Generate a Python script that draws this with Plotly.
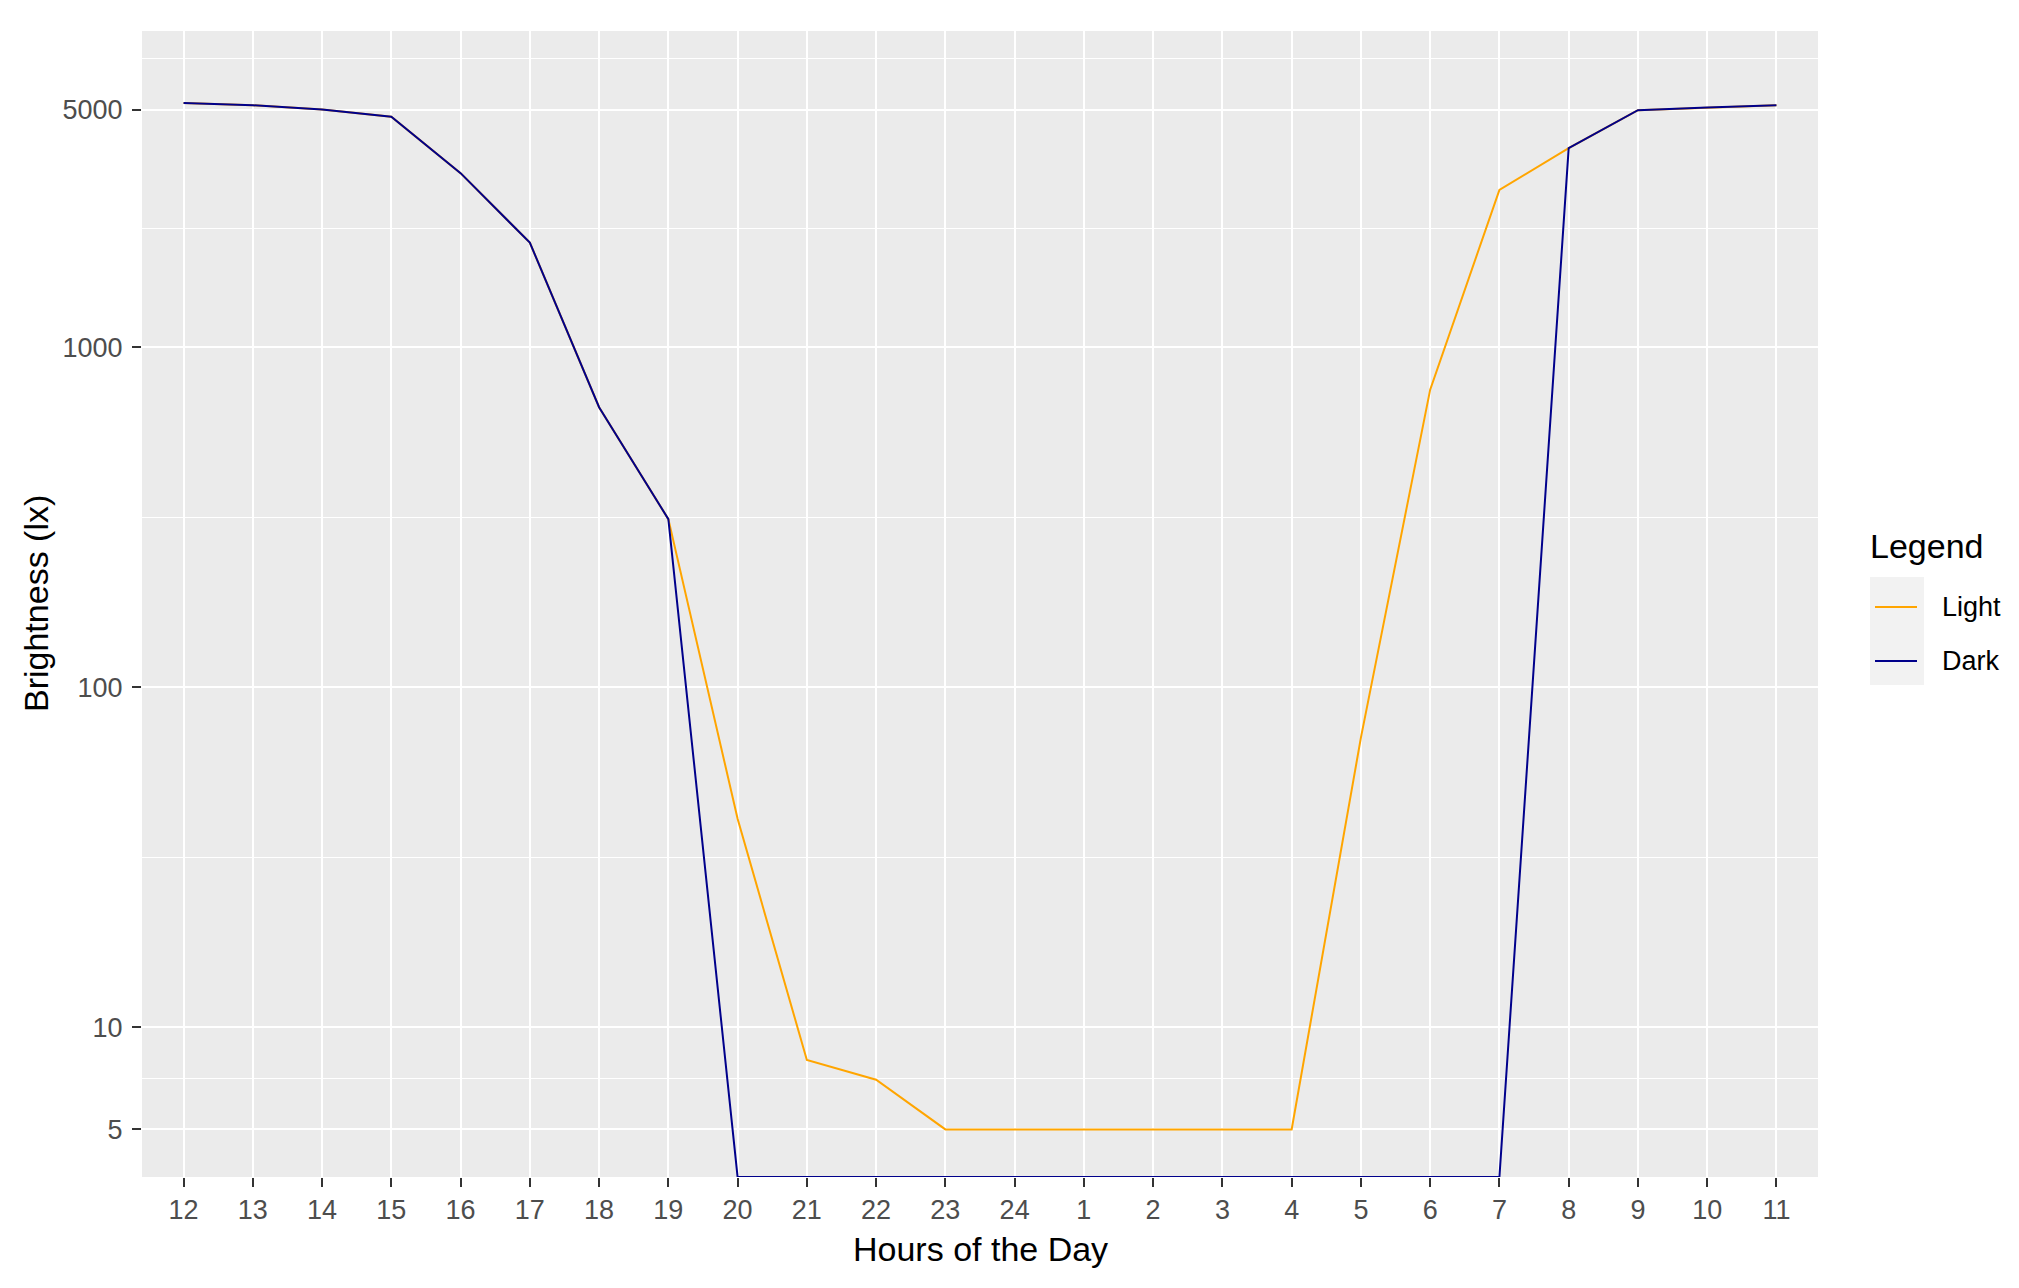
import math

import plotly.graph_objects as go

# hours on the x axis (noon to 11 the next morning)
hours = ["12", "13", "14", "15", "16", "17", "18", "19", "20", "21", "22", "23",
         "24", "1", "2", "3", "4", "5", "6", "7", "8", "9", "10", "11"]

# brightness in lx
light = [5230, 5150, 5000, 4760, 3250, 2030, 666, 312, 41, 8.0, 7.0, 5,
         5, 5, 5, 5, 5, 71, 750, 2900, 3850, 4980, 5070, 5150]
# 0 = no light: drawn on the bottom edge like ggplot does with -Inf on a log scale
dark = [5230, 5150, 5000, 4760, 3250, 2030, 666, 312, 0, 0, 0, 0,
        0, 0, 0, 0, 0, 0, 0, 0, 3850, 4980, 5070, 5150]

y_breaks = [5, 10, 100, 1000, 5000]
y_labels = ["5", "10", "100", "1000", "5000"]

W, H = 2019, 1288
ML, MR, MT, MB = 142, 201, 31, 111
y_lo, y_hi = 0.559, 3.930


def px(x):
    return (x - ML) / (W - ML - MR)


def py(y):
    return (H - MB - y) / (H - MT - MB)


# minor grid in the middle of major breaks (log space), ggplot style
logs = [math.log10(b) for b in y_breaks]
step = logs[1] - logs[0]
ext = [logs[0] - step] + logs + [logs[-1] + step]
minor_vals = [10 ** ((a + b) / 2) for a, b in zip(ext[:-1], ext[1:])]

floor_val = 10 ** y_lo
dark_plot = [v if v > 0 else floor_val for v in dark]

fig = go.Figure()
fig.add_trace(go.Scatter(x=hours, y=light, mode="lines", name="Light",
                         line=dict(color="#FFA500", width=2), cliponaxis=False))
fig.add_trace(go.Scatter(x=hours, y=dark_plot, mode="lines", name="Dark",
                         line=dict(color="#00008B", width=2), cliponaxis=False))

font = "Liberation Sans, Arial, sans-serif"

fig.update_xaxes(
    type="category",
    categoryorder="array", categoryarray=hours,
    range=[-0.6, len(hours) - 0.4],
    showgrid=True, gridcolor="white", gridwidth=2.2,
    ticks="outside", ticklen=9, tickwidth=1.5, tickcolor="#333333",
    tickfont=dict(family=font, size=27, color="#4D4D4D"),
    showline=False, zeroline=False,
)
fig.update_yaxes(
    type="log",
    range=[y_lo, y_hi],
    tickmode="array", tickvals=y_breaks, ticktext=y_labels,
    showgrid=True, gridcolor="white", gridwidth=2.2,
    minor=dict(tickmode="array", tickvals=minor_vals, showgrid=True,
               gridcolor="white", gridwidth=1.1, ticklen=0),
    ticks="outside", ticklen=9, tickwidth=1.5, tickcolor="#333333",
    ticklabelstandoff=4,
    tickfont=dict(family=font, size=27, color="#4D4D4D"),
    showline=False, zeroline=False,
)

annotations = [
    dict(x=px((ML + W - MR) / 2), y=py(1249), xref="paper", yref="paper",
         text="Hours of the Day", showarrow=False,
         font=dict(family=font, size=34, color="black"),
         xanchor="center", yanchor="middle"),
    dict(x=px(36), y=py((MT + H - MB) / 2), xref="paper", yref="paper",
         text="Brightness (lx)", showarrow=False, textangle=-90,
         font=dict(family=font, size=34, color="black"),
         xanchor="center", yanchor="middle"),
    dict(x=px(1868), y=py(546), xref="paper", yref="paper",
         text="Legend", showarrow=False,
         font=dict(family=font, size=34, color="black"),
         xanchor="left", yanchor="middle"),
]

# hand-made legend, ggplot look (grey key box)
shapes = [dict(type="rect", xref="paper", yref="paper",
               x0=px(1870), x1=px(1924), y0=py(577), y1=py(685),
               fillcolor="#F2F2F2", line=dict(width=0), layer="below")]
for name, colour, ky in [("Light", "#FFA500", 607), ("Dark", "#00008B", 661)]:
    shapes.append(dict(type="line", xref="paper", yref="paper",
                       x0=px(1875), x1=px(1917), y0=py(ky), y1=py(ky),
                       line=dict(color=colour, width=2)))
    annotations.append(dict(x=px(1940), y=py(ky), xref="paper", yref="paper",
                            text=name, showarrow=False,
                            font=dict(family=font, size=27, color="black"),
                            xanchor="left", yanchor="middle"))

fig.update_layout(
    width=W, height=H,
    margin=dict(l=ML, r=MR, t=MT, b=MB),
    paper_bgcolor="white",
    plot_bgcolor="#EBEBEB",
    showlegend=False,
    annotations=annotations,
    shapes=shapes,
)

# the browser's default 8px body margin would push the figure off its place
fig.write_html("out.html",
               config={"displayModeBar": False},
               post_script="document.body.style.margin='0';"
                           "document.body.style.overflow='hidden';")
